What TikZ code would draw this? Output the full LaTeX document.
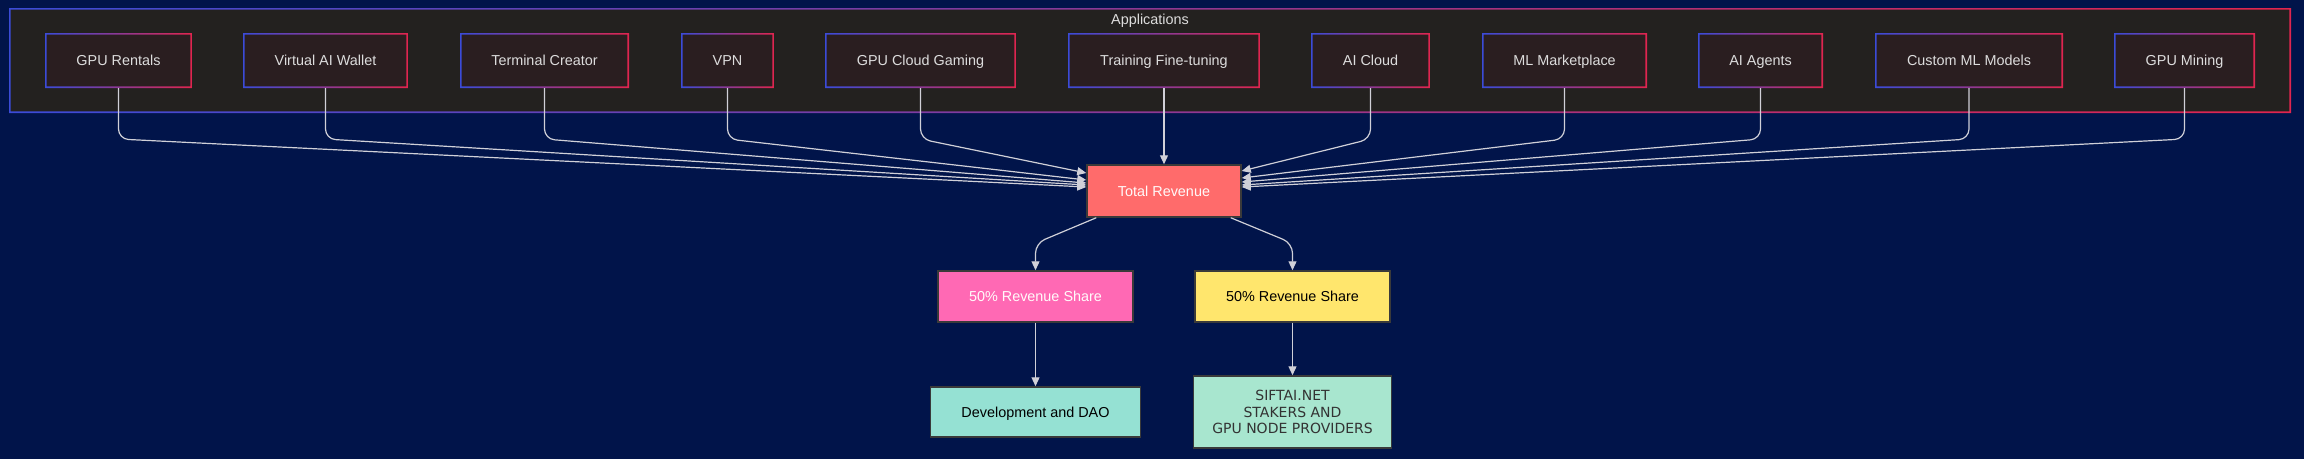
\documentclass[tikz,border=0pt]{standalone}
\usepackage{fontspec}
\setmainfont{Liberation Sans}
\newfontfamily\dejavu{DejaVu Sans}
\usetikzlibrary{arrows.meta,calc}
\definecolor{bg}{HTML}{01144A}
\definecolor{clusterfill}{HTML}{23211F}
\definecolor{appfill}{HTML}{2A1E20}
\definecolor{frblue}{HTML}{3B4BD8}
\definecolor{frred}{HTML}{E0254F}
\definecolor{apptext}{HTML}{DDDDDD}
\definecolor{linec}{HTML}{D0D0D8}
\definecolor{trfill}{HTML}{FF6B6B}
\definecolor{pinkfill}{HTML}{FF69B4}
\definecolor{yellowfill}{HTML}{FFE66D}
\definecolor{devfill}{HTML}{95E1D3}
\definecolor{siftfill}{HTML}{A8E6CF}
\definecolor{boxborder}{HTML}{3A3A3A}
\tikzset{
  txt/.style={font=\fontsize{14.4pt}{17pt}\selectfont},
  capc/.style={text height=10.3pt, text depth=0pt},
  gradframe/.style={path picture={
    \shade[left color=frblue, right color=frred, even odd rule]
      (path picture bounding box.south west) rectangle (path picture bounding box.north east)
      ([shift={(#1,#1)}]path picture bounding box.south west) rectangle ([shift={(-#1,-#1)}]path picture bounding box.north east);}},
  appbox/.style={txt, capc, fill=appfill, text=apptext, minimum height=55pt, inner sep=0pt, gradframe=1.6pt},
  cluster/.style={fill=clusterfill, minimum width=2282pt, minimum height=105pt, inner sep=0pt, gradframe=1.6pt},
  flowbox/.style={txt, draw=boxborder, line width=1.5pt, inner sep=0pt},
  conn/.style={draw=linec, line width=1.2pt, rounded corners=10pt, -{Triangle[length=9pt,width=8pt,fill=linec]}},
}
\begin{document}
\begin{tikzpicture}[x=1pt,y=-1pt]
\useasboundingbox (0,0) rectangle (2304,459);
\fill[bg] (0,0) rectangle (2304,459);

% cluster
\node[cluster] (apps) at (1150,60.5) {};
\node[txt, capc, text=apptext] (appslabel) at (1150,19) {Applications};

% application boxes
\node[appbox, minimum width=147pt] (gr)  at (118.5,60.5) {GPU Rentals};
\node[appbox, minimum width=165pt] (vw)  at (325.5,60.5) {Virtual AI Wallet};
\node[appbox, minimum width=169pt] (tc)  at (544.5,60.5) {Terminal Creator};
\node[appbox, minimum width=93pt]  (vpn) at (727.5,60.5) {VPN};
\node[appbox, minimum width=191pt] (gcg) at (920.5,60.5) {GPU Cloud Gaming};
\node[appbox, minimum width=192pt] (tf)  at (1164,60.5) {Training Fine-tuning};
\node[appbox, minimum width=119pt] (aic) at (1370.5,60.5) {AI Cloud};
\node[appbox, minimum width=165pt] (ml)  at (1564.5,60.5) {ML Marketplace};
\node[appbox, minimum width=125pt] (aia) at (1760.5,60.5) {AI Agents};
\node[appbox, minimum width=188pt] (cmm) at (1969,60.5) {Custom ML Models};
\node[appbox, minimum width=141pt] (gm)  at (2184.5,60.5) {GPU Mining};

% flow boxes
\node[flowbox, capc, fill=trfill, text=white!90!pink, minimum width=154pt, minimum height=52pt] (tr) at (1164,191) {Total Revenue};
\node[flowbox, capc, fill=pinkfill, text=white!92!pink, minimum width=195pt, minimum height=51pt] (s1) at (1035.5,296.5) {50\% Revenue Share};
\node[flowbox, capc, fill=yellowfill, text=black, minimum width=195pt, minimum height=51pt] (s2) at (1292.5,296.5) {50\% Revenue Share};
\node[flowbox, capc, fill=devfill, text=black, minimum width=210pt, minimum height=50pt] (dev) at (1035.5,412) {Development and DAO};
\node[flowbox, fill=siftfill, text=black!80, minimum width=198pt, minimum height=72pt, align=center, font=\dejavu\fontsize{14pt}{16.7pt}\selectfont] (sift) at (1292.5,412) {SIFTAI.NET\\STAKERS AND\\GPU NODE PROVIDERS};

\coordinate (bend) at (0,139);

% connectors into Total Revenue
\foreach \n/\s in {gr/4, vw/6, tc/8, vpn/11, gcg/18}
  \draw[conn] (\n.south) -- (\n.south |- bend) -- ([yshift=\s pt]tr.west);
\foreach \n/\s in {aic/20, ml/13, aia/9, cmm/6, gm/4}
  \draw[conn] (\n.south) -- (\n.south |- bend) -- ([yshift=\s pt]tr.east);
\draw[conn] (tf.south) -- (tr.north);

% split
\draw[conn] ([xshift=10pt]tr.south west) -- ($(s1.north)+(0,-27)$) -- (s1.north);
\draw[conn] ([xshift=-11pt]tr.south east) -- ($(s2.north)+(0,-27)$) -- (s2.north);
\draw[conn] (s1.south) -- (dev.north);
\draw[conn] (s2.south) -- (sift.north);
\end{tikzpicture}
\end{document}
